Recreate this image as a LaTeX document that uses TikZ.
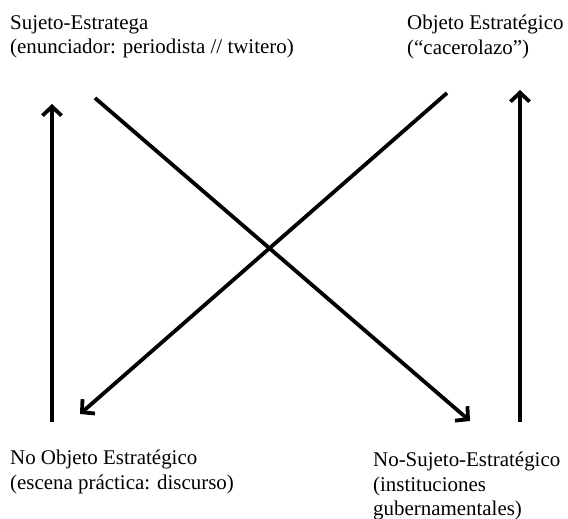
\documentclass[tikz,border=0pt]{standalone}
\usepackage{fontspec}
\setmainfont{Liberation Serif}
\usetikzlibrary{arrows.meta}
\newcommand{\Label}{\fontsize{21}{24.5}\selectfont}

\begin{document}
\begin{tikzpicture}[x=1bp,y=-1bp, font=\Label,
    corner/.style={anchor=north west, align=left, inner sep=0pt},
    arrowline/.style={line width=3.8bp, -{Straight Barb[length=9bp,width=19bp,line width=3.8bp]}}]
  \useasboundingbox (0,0) rectangle (568,519);
  % the four positions
  \node[corner] (sujeto)   at (10,15)   {Sujeto-Estratega\\(enunciador: periodista // twitero)};
  \node[corner] (objeto)   at (407,15)  {Objeto Estratégico\\(“cacerolazo”)};
  \node[corner] (noobjeto) at (10,450)  {No Objeto Estratégico\\(escena práctica: discurso)};
  \node[corner] (nosujeto) at (373,452) {No-Sujeto-Estratégico\\(instituciones\\gubernamentales)};
  % arrow ends
  \coordinate (l0) at (52,422);  \coordinate (l1) at (52,104);
  \coordinate (r0) at (520,422); \coordinate (r1) at (520,90);
  \coordinate (a0) at (95,98);   \coordinate (a1) at (470,421);
  \coordinate (b0) at (447,93);  \coordinate (b1) at (80,414);
  \draw[arrowline] (l0) -- (l1);
  \draw[arrowline] (r0) -- (r1);
  \draw[arrowline] (a0) -- (a1);
  \draw[arrowline] (b0) -- (b1);
\end{tikzpicture}
\end{document}
